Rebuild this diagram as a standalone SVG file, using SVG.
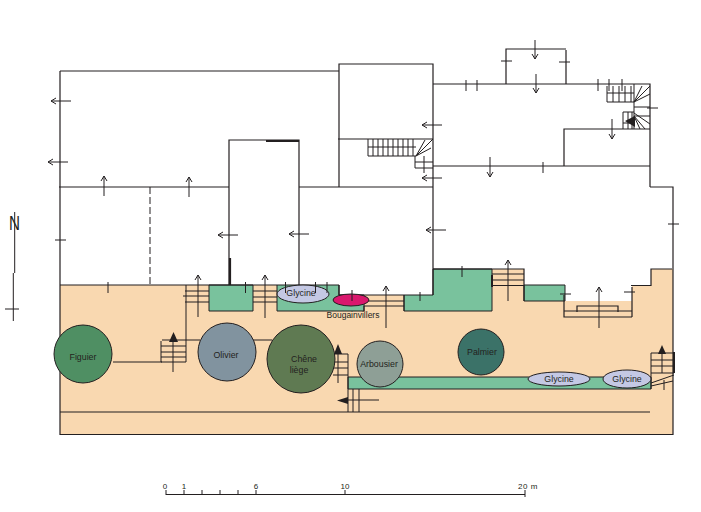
<svg xmlns="http://www.w3.org/2000/svg" width="701" height="512" viewBox="0 0 701 512">
<style>
.l{fill:none;stroke:#231f20;stroke-width:1}
.b{fill:none;stroke:#231f20;stroke-width:1.2}
.g{fill:#79c29d;stroke:#231f20;stroke-width:1}
.tree{stroke:#231f20;stroke-width:1}
.a{fill:none;stroke:#231f20;stroke-width:1;marker-end:url(#o)}
text{font-family:"Liberation Sans",Arial,sans-serif;font-size:8.8px;fill:#231f20;text-anchor:middle}
.ah{fill:#231f20;stroke:none}
</style>
<defs>
<marker id="o" markerWidth="8" markerHeight="8" refX="6" refY="4" orient="auto" markerUnits="userSpaceOnUse"><path d="M1,1L6,4L1,7" fill="none" stroke="#231f20" stroke-width="1"/></marker>
</defs>
<rect width="701" height="512" fill="#fff"/>
<g id="garden">
<path d="M60,285H339V295H433V269H524V285H565V301H632V285H651V269H673V434H60Z" fill="#f9d8b0"/>
<path class="g" d="M209,285H253V311H209Z"/>
<path class="g" d="M277,311V285H339V295H364V311Z"/>
<path class="g" d="M404,311V295H433V269H492V311Z"/>
<path class="g" d="M524,285H565V301H524Z"/>
<path class="g" d="M348,389V377H651V389Z"/>
</g>
<g id="walls">
<path class="b" d="M60,71H339M60,71V434.500H673V187H650M59,187H229M299,187H433M229,285V140H299V285M339,187V64H433V295M60,285H277"/>
<path class="b" d="M433,84H650V187M506,84V49H566M566,50V84M433,166H650M564,166V129H650M338,139H433"/>
<path fill="none" stroke="#231f20" stroke-width="1" stroke-dasharray="7 3" d="M150,187V285"/>
<path fill="none" stroke="#231f20" stroke-width="2.2" d="M266,141H299M230,258V285"/>
<path class="b" d="M339,285V295H404M433,269H524V301M632,287V317M564,295V317H632M577,312V306H618V312M564,311H632M631,285.500H651V269H672"/>
<path class="b" d="M60,412H650"/>
</g>
<g id="connectors">
<path class="a" d="M71,101H51"/><path class="a" d="M68,162H48"/>
<path class="a" d="M104,196V176"/><path class="a" d="M189,197V177"/>
<path class="a" d="M238,235H218"/><path class="a" d="M309,234H289"/>
<path class="a" d="M442,125H422"/><path class="a" d="M442,178H422"/><path class="a" d="M446,230H426"/>
<path class="a" d="M535,40V59"/><path class="a" d="M536,74V93"/><path class="a" d="M490,157V177"/><path class="a" d="M612,119V139"/>
<path class="a" d="M198,317V275"/><path class="a" d="M265,318V275"/><path class="a" d="M386,328V286"/><path class="a" d="M508,301V260"/><path class="a" d="M599,328V287"/>
<path class="l" d="M55,240H66M108,282V293M466,80V91M477,80V91M501,61H512M559,62H570M598,79V91M609,79V91M622,79V91M543,162V173M462,266V277M420,292V301M560,294H571M624,292H635M668,224H679M647,108H658"/>
</g>
<g id="stairs">
<path class="l" d="M368,139V156M373,139V156M378,139V156M383,139V156M388,139V156M393,139V156M398,139V156M403,139V156M408,139V156M413,139V156M368,147H416M368,156H416M416,156L433,139M416,156L425,140M416,156L431,148M415,156V168H433M415,162H433M424,156V173"/>
<path class="l" d="M607,86V102H634M607,93H634M613,86V102M619,86V102M625,86V102M631,86V102M634,84V129M634,102L650,86M634,102L642,86M634,102L650,94M634,107H650M623,112H634M634,116H650M623,112V129M628,112V129M632,112V129M623,123H634M634,113L650,124M634,116L645,129M634,116L640,129"/>
<path class="ah" d="M625,121L635,116V127Z"/>
<path class="l" d="M186,285V362H161M161,341V362M185,291H209M183,296H209M185,302H209M253,291H277M253,297H277M253,302H277M162,340H200M161,346H186M161,352H186M161,357H186M253,340H272M173,372V340M113,362H162"/>
<path class="ah" d="M173.500,332L169,342H178Z"/>
<path class="l" d="M348,354V412M333,354H348M333,362H348M333,368H348M333,375H348M338,383V353"/>
<path class="ah" d="M338,344L334,354H342Z"/>
<path class="l" d="M353,389V412M359,389V412M345,400H379"/>
<path class="ah" d="M337,400.500L348,397V404Z"/>
<path class="l" d="M364,301H404M364,306H404M404,295V311M364,306V311M492,274H524M492,280H524M492,285.500H524M651,353H674M651,360H674M651,366H674M651,373H674M651,353V389M651,383L674,375M651,386L673,381M664,380V390M662,353V373"/>
<path fill="none" stroke="#231f20" stroke-width="2" d="M492,275V287M674,352V373"/>
<path class="ah" d="M662,345L658,354H666Z"/>
</g>
<g id="tree-figuier"><circle class="tree" cx="83" cy="354" r="29" fill="#4f8f63"/><text x="83" y="360">Figuier</text></g>
<g id="tree-olivier"><circle class="tree" cx="227" cy="352" r="29" fill="#81939f"/><text x="226" y="358">Olivier</text></g>
<g id="tree-chene"><circle class="tree" cx="301" cy="359" r="34" fill="#5f7a52"/><text x="304" y="362">Chêne</text><text x="299" y="373">liège</text></g>
<g id="tree-arbousier"><circle class="tree" cx="380" cy="364" r="23" fill="#8e9f96"/><text x="379" y="367">Arbousier</text></g>
<g id="tree-palmier"><circle class="tree" cx="481" cy="352" r="23" fill="#3b7268"/><text x="482" y="355">Palmier</text></g>
<g id="glycine-1"><ellipse class="tree" cx="303" cy="294" rx="26" ry="9" fill="#c4c8e4"/><text x="301" y="296">Glycine</text></g>
<g id="bougainvillers"><ellipse class="tree" cx="351" cy="300" rx="18" ry="6" fill="#d9186d"/><text x="353" y="318" style="font-size:8.500px">Bougainvillers</text></g>
<g id="glycine-2"><ellipse class="tree" cx="559" cy="379" rx="31" ry="7" fill="#c4c8e4"/><text x="559" y="382">Glycine</text></g>
<g id="glycine-3"><ellipse class="tree" cx="627" cy="379" rx="24" ry="9" fill="#c4c8e4"/><text x="627" y="382">Glycine</text></g>
<path class="l" d="M352,290V301M245.500,282V293M285.500,282V293M315.500,282V293M327,282V293"/>
<g id="north"><path class="l" d="M14.700,212V273M13.300,273V321M5,309H19"/><text x="14.500" y="230" textLength="11" lengthAdjust="spacingAndGlyphs" style="font-size:20px">N</text></g>
<g id="scale">
<path class="l" d="M166,494.500H525M166,490V495M184,490V495M202,490V495M220,490V495M238,490V495M256,490V495M345,490V495M525,490V497"/>
<text x="165" y="489" style="font-size:8px">0</text><text x="184" y="489" style="font-size:8px">1</text><text x="256" y="489" style="font-size:8px">6</text><text x="345" y="489" style="font-size:8px">10</text><text x="528" y="489" style="font-size:8px;letter-spacing:.6px">20 m</text>
</g>
</svg>
